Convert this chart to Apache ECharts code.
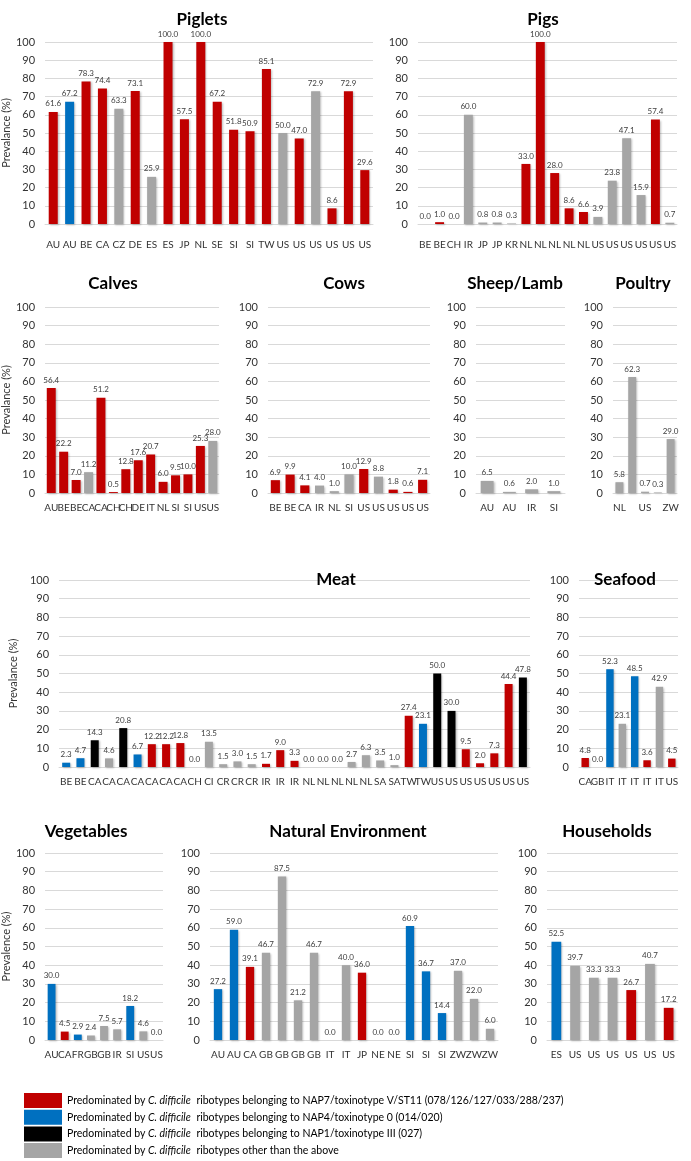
<!DOCTYPE html>
<html>
<head>
<meta charset="utf-8">
<script src="https://cdn.jsdelivr.net/npm/echarts@6/dist/echarts.min.js"></script>
<style>
  html, body { margin: 0; padding: 0; background: #fff; }
  #chart { width: 691px; height: 1161px; }
</style>
</head>
<body>
<div id="chart"></div>
<script>
// type codes: r = NAP7, b = NAP4, k = NAP1, g = other
const pigletsCats = ['AU', 'AU', 'BE', 'CA', 'CZ', 'DE', 'ES', 'ES', 'JP', 'NL', 'SE', 'SI', 'SI', 'TW', 'US', 'US', 'US', 'US', 'US', 'US']
const pigletsVals = [61.6, 67.2, 78.3, 74.4, 63.3, 73.1, 25.9, 100.0, 57.5, 100.0, 67.2, 51.8, 50.9, 85.1, 50.0, 47.0, 72.9, 8.6, 72.9, 29.6]
const pigletsTypes = ['r', 'b', 'r', 'r', 'g', 'r', 'g', 'r', 'r', 'r', 'r', 'r', 'r', 'r', 'g', 'r', 'g', 'r', 'r', 'r']

const pigsCats = ['BE', 'BE', 'CH', 'IR', 'JP', 'JP', 'KR', 'NL', 'NL', 'NL', 'NL', 'NL', 'US', 'US', 'US', 'US', 'US', 'US']
const pigsVals = [0.0, 1.0, 0.0, 60.0, 0.8, 0.8, 0.3, 33.0, 100.0, 28.0, 8.6, 6.6, 3.9, 23.8, 47.1, 15.9, 57.4, 0.7]
const pigsTypes = ['g', 'r', 'g', 'g', 'g', 'g', 'g', 'r', 'r', 'r', 'r', 'r', 'g', 'g', 'g', 'g', 'r', 'g']

const calvesCats = ['AU', 'BE', 'BE', 'CA', 'CA', 'CH', 'CH', 'DE', 'IT', 'NL', 'SI', 'SI', 'US', 'US']
const calvesVals = [56.4, 22.2, 7.0, 11.2, 51.2, 0.5, 12.8, 17.6, 20.7, 6.0, 9.5, 10.0, 25.3, 28.0]
const calvesTypes = ['r', 'r', 'r', 'g', 'r', 'r', 'r', 'r', 'r', 'r', 'r', 'r', 'r', 'g']

const cowsCats = ['BE', 'BE', 'CA', 'IR', 'NL', 'SI', 'US', 'US', 'US', 'US', 'US']
const cowsVals = [6.9, 9.9, 4.1, 4.0, 1.0, 10.0, 12.9, 8.8, 1.8, 0.6, 7.1]
const cowsTypes = ['r', 'r', 'r', 'g', 'g', 'g', 'r', 'g', 'r', 'r', 'r']

const sheepCats = ['AU', 'AU', 'IR', 'SI']
const sheepVals = [6.5, 0.6, 2.0, 1.0]
const sheepTypes = ['g', 'g', 'g', 'g']

const poultryCats = ['NL', 'NL', 'US', 'US', 'ZW']
const poultryVals = [5.8, 62.3, 0.7, 0.3, 29.0]
const poultryTypes = ['g', 'g', 'g', 'g', 'g']

const meatCats = ['BE', 'BE', 'CA', 'CA', 'CA', 'CA', 'CA', 'CA', 'CA', 'CH', 'CI', 'CR', 'CR', 'CR', 'IR', 'IR', 'IR',
  'NL', 'NL', 'NL', 'NL', 'NL', 'SA', 'SA', 'TW', 'TW', 'US', 'US', 'US', 'US', 'US', 'US', 'US']
const meatVals = [2.3, 4.7, 14.3, 4.6, 20.8, 6.7, 12.2, 12.2, 12.8, 0.0, 13.5, 1.5, 3.0, 1.5, 1.7, 9.0, 3.3,
  0.0, 0.0, 0.0, 2.7, 6.3, 3.5, 1.0, 27.4, 23.1, 50.0, 30.0, 9.5, 2.0, 7.3, 44.4, 47.8]
const meatTypes = ['b', 'b', 'k', 'g', 'k', 'b', 'r', 'r', 'r', 'g', 'g', 'g', 'g', 'g', 'r', 'r', 'r',
  'g', 'g', 'g', 'g', 'g', 'g', 'g', 'r', 'b', 'k', 'k', 'r', 'r', 'r', 'r', 'k']

const seafoodCats = ['CA', 'GB', 'IT', 'IT', 'IT', 'IT', 'IT', 'US']
const seafoodVals = [4.8, 0.0, 52.3, 23.1, 48.5, 3.6, 42.9, 4.5]
const seafoodTypes = ['r', 'g', 'b', 'g', 'b', 'r', 'g', 'r']

const vegCats = ['AU', 'CA', 'FR', 'GB', 'GB', 'IR', 'SI', 'US', 'US']
const vegVals = [30.0, 4.5, 2.9, 2.4, 7.5, 5.7, 18.2, 4.6, 0.0]
const vegTypes = ['b', 'r', 'b', 'g', 'g', 'g', 'b', 'g', 'g']

const natCats = ['AU', 'AU', 'CA', 'GB', 'GB', 'GB', 'GB', 'IT', 'IT', 'JP', 'NE', 'NE', 'SI', 'SI', 'SI', 'ZW', 'ZW', 'ZW']
const natVals = [27.2, 59.0, 39.1, 46.7, 87.5, 21.2, 46.7, 0.0, 40.0, 36.0, 0.0, 0.0, 60.9, 36.7, 14.4, 37.0, 22.0, 6.0]
const natTypes = ['b', 'b', 'r', 'g', 'g', 'g', 'g', 'g', 'g', 'r', 'g', 'g', 'b', 'b', 'b', 'g', 'g', 'g']

const houseCats = ['ES', 'US', 'US', 'US', 'US', 'US', 'US']
const houseVals = [52.5, 39.7, 33.3, 33.3, 26.7, 40.7, 17.2]
const houseTypes = ['b', 'g', 'g', 'g', 'r', 'g', 'r']

const yTicks = [0, 100, 10] // min, max, interval

const legendNames = [
  'Predominated by C. difficile ribotypes belonging to NAP7/toxinotype V/ST11 (078/126/127/033/288/237)',
  'Predominated by C. difficile ribotypes belonging to NAP4/toxinotype 0 (014/020)',
  'Predominated by C. difficile ribotypes belonging to NAP1/toxinotype III (027)',
  'Predominated by C. difficile ribotypes other than the above'
]
const legendTypes = ['r', 'b', 'k', 'g']

const COLORS = { r: '#C00000', b: '#0070C0', k: '#000000', g: '#A5A5A5' }
const FONT = 'Lato'

// 面板布局
const panels = [
  { title: 'Piglets', cats: pigletsCats, vals: pigletsVals, types: pigletsTypes, left: 37, top: 42, width: 336, height: 182, tx: 197, ty: 6, yName: 'Prevalance (%)', bw: '55%', xm: 16 },
  { title: 'Pigs', cats: pigsCats, vals: pigsVals, types: pigsTypes, left: 418, top: 42, width: 259, height: 182, tx: 538, ty: 6, bw: '62%', xm: 16 },
  { title: 'Calves', cats: calvesCats, vals: calvesVals, types: calvesTypes, left: 39, top: 307, width: 180, height: 186, tx: 108, ty: 270, yName: 'Prevalance (%)', bw: '72%', xm: 10 },
  { title: 'Cows', cats: cowsCats, vals: cowsVals, types: cowsTypes, left: 268, top: 307, width: 162, height: 186, tx: 339, ty: 270, bw: '62%', xm: 10 },
  { title: 'Sheep/Lamb', cats: sheepCats, vals: sheepVals, types: sheepTypes, left: 476, top: 307, width: 89, height: 186, tx: 510, ty: 270, bw: '58%', xm: 10 },
  { title: 'Poultry', cats: poultryCats, vals: poultryVals, types: poultryTypes, left: 613, top: 307, width: 64, height: 186, tx: 638, ty: 270, bw: '62%', xm: 10, every: 1 },
  { title: 'Meat', cats: meatCats, vals: meatVals, types: meatTypes, left: 40, top: 580, width: 490, height: 187, tx: 331, ty: 566, yName: 'Prevalance (%)', bw: '56%', xm: 10 },
  { title: 'Seafood', cats: seafoodCats, vals: seafoodVals, types: seafoodTypes, left: 579, top: 580, width: 99, height: 187, tx: 620, ty: 566, bw: '60%', xm: 10 },
  { title: 'Vegetables', cats: vegCats, vals: vegVals, types: vegTypes, left: 40, top: 853, width: 123, height: 187, tx: 81, ty: 818, yName: 'Prevalence (%)', bw: '60%', xm: 10 },
  { title: 'Natural Environment', cats: natCats, vals: natVals, types: natTypes, left: 210, top: 853, width: 288, height: 187, tx: 343, ty: 818, bw: '52%', xm: 10 },
  { title: 'Households', cats: houseCats, vals: houseVals, types: houseTypes, left: 547, top: 853, width: 131, height: 187, tx: 602, ty: 818, bw: '52%', xm: 10 }
]

const option = {
  animation: false,
  backgroundColor: '#fff',
  textStyle: { fontFamily: FONT },
  title: [],
  grid: [],
  xAxis: [],
  yAxis: [],
  series: []
}

panels.forEach((p, i) => {
  option.title.push({
    text: p.title,
    left: p.tx,
    top: p.ty,
    textAlign: 'center',
    textStyle: { fontFamily: FONT, fontSize: 17, fontWeight: 'bold', color: '#000' }
  })
  option.grid.push({ left: p.left, top: p.top, width: p.width, height: p.height })
  option.xAxis.push({
    type: 'category',
    gridIndex: i,
    data: p.cats,
    axisLine: { lineStyle: { color: '#D9D9D9' } },
    axisTick: { show: false },
    axisLabel: { interval: p.every || 0, fontSize: 10, color: '#333', margin: p.xm, fontFamily: FONT }
  })
  option.yAxis.push({
    type: 'value',
    gridIndex: i,
    min: yTicks[0],
    max: yTicks[1],
    interval: yTicks[2],
    name: p.yName || '',
    nameLocation: 'middle',
    nameGap: 24,
    nameTextStyle: { fontSize: 11, color: '#333', fontFamily: FONT },
    axisLine: { show: false },
    axisTick: { show: false },
    axisLabel: { fontSize: 11, color: '#333', margin: 10, fontFamily: FONT },
    splitLine: { lineStyle: { color: '#D9D9D9' } }
  })
  option.series.push({
    type: 'bar',
    name: p.title,
    xAxisIndex: i,
    yAxisIndex: i,
    barWidth: p.bw,
    data: p.vals.map((v, j) => ({ value: v, itemStyle: { color: COLORS[p.types[j]] } })),
    itemStyle: { shadowBlur: 2, shadowColor: 'rgba(0,0,0,0.25)', shadowOffsetX: 1, shadowOffsetY: 1 },
    label: {
      show: true,
      position: 'top',
      distance: 4,
      fontSize: 8,
      color: '#404040',
      fontFamily: FONT,
      formatter: d => d.value.toFixed(1)
    }
  })
})

// hidden grid only for legend series
const hid = panels.length
option.grid.push({ left: -200, top: -200, width: 10, height: 10 })
option.xAxis.push({ type: 'category', gridIndex: hid, show: false, data: ['x'] })
option.yAxis.push({ type: 'value', gridIndex: hid, show: false })
legendNames.forEach((n, k) => {
  option.series.push({ type: 'bar', name: n, xAxisIndex: hid, yAxisIndex: hid, data: [], itemStyle: { color: COLORS[legendTypes[k]] } })
})

option.legend = {
  data: legendNames,
  orient: 'vertical',
  left: 24,
  top: 1093,
  padding: 0,
  itemWidth: 38,
  itemHeight: 15,
  itemGap: 1.7,
  icon: 'rect',
  selectedMode: false,
  formatter: name => '{n|' + name.replace('C. difficile', '}{i|C. difficile}{n|') + '}',
  textStyle: {
    fontFamily: FONT,
    rich: {
      n: { fontSize: 10.5, color: '#000', fontFamily: FONT },
      i: { fontSize: 10.5, color: '#000', fontStyle: 'italic', fontFamily: FONT, padding: [0, 3, 0, 0] }
    }
  }
}

const chartInstance = echarts.init(document.getElementById('chart'), null, { renderer: 'canvas' })
chartInstance.setOption(option)
</script>
</body>
</html>
